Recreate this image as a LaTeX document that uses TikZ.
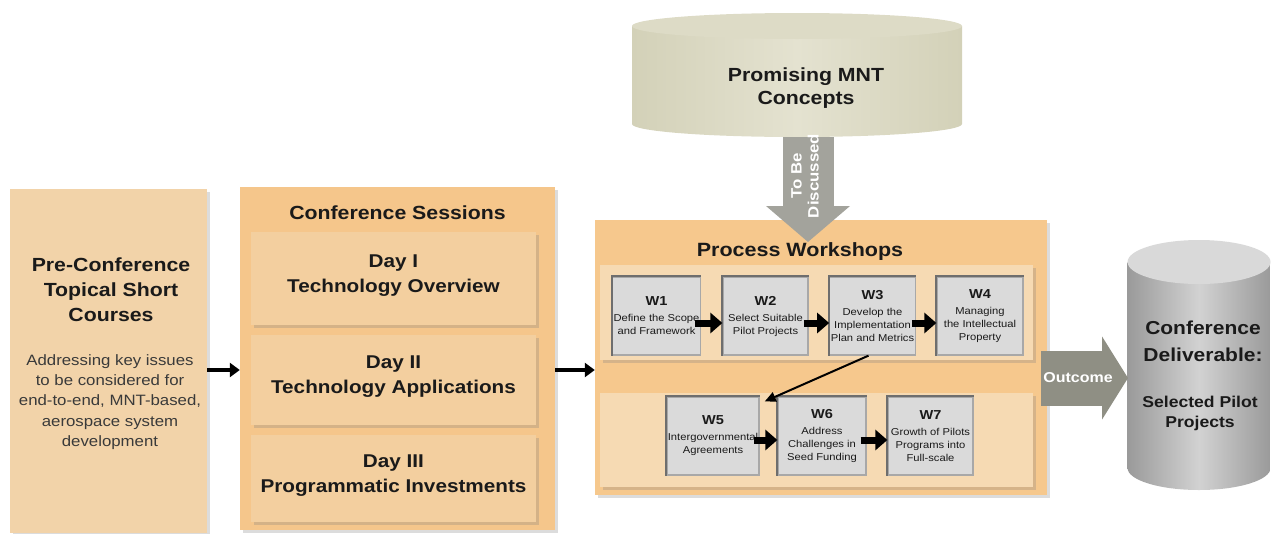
\documentclass[tikz,border=0pt]{standalone}
\usepackage{fontspec}
\setmainfont[FakeStretch=1.12]{Liberation Sans}
\usetikzlibrary{arrows.meta,shadows}
\definecolor{pretan}{HTML}{F2D3A9}
\definecolor{csouter}{HTML}{F5C68B}
\definecolor{dayfill}{HTML}{F3CF9F}
\definecolor{pwouter}{HTML}{F6C88D}
\definecolor{bandfill}{HTML}{F6DAB3}
\definecolor{wfill}{HTML}{DADADA}
\definecolor{wborder}{HTML}{A8A8A8}
\definecolor{wdark}{HTML}{6E6E6E}
\definecolor{txtdark}{HTML}{1A1A1A}
\definecolor{subtxt}{HTML}{3A3A3A}
\definecolor{khaki}{HTML}{D3D1B8}
\definecolor{khakilight}{HTML}{E4E2D0}
\definecolor{khakitop}{HTML}{DDDBC6}
\definecolor{arrowgray}{HTML}{A3A39C}
\definecolor{outgray}{HTML}{8F8F84}
\definecolor{cylgraydark}{HTML}{9A9A9A}
\definecolor{cylgraylight}{HTML}{D2D2D2}
\definecolor{cyltop}{HTML}{D9D9D9}
\begin{document}
\begin{tikzpicture}[x=1pt,y=-1pt,
  shadowed/.style={drop shadow={opacity=0.28,shadow xshift=3pt,shadow yshift=-3pt}},
  panel/.style={shadowed, inner sep=0pt},
  daybox/.style={panel, fill=dayfill, minimum width=285pt, align=center, text=txtdark, text depth=10pt, font=\fontsize{18.5}{25}\selectfont\bfseries},
  wbox/.style={fill=wfill, draw=wborder, line width=1.3pt, minimum height=78pt, inner sep=1pt, align=center, text=txtdark, font=\fontsize{10}{13}\selectfont},
  wedge/.style={draw=wdark, line width=1.8pt},
  band/.style={fill=bandfill, minimum width=433pt, inner sep=0pt, shadowed},
  blockarrow/.style={black, line width=7pt, -{Triangle[length=12pt,width=20pt]}},
  flowarrow/.style={black, line width=3.5pt, -{Triangle[length=10pt,width=14pt]}},
  thinarrow/.style={black, line width=2pt, -{Triangle[length=11pt,width=10pt]}},
  title/.style={text=txtdark, font=\fontsize{19}{25}\selectfont\bfseries, align=center, inner sep=0pt},
]
\useasboundingbox (0,0) rectangle (1271,533);
\newcommand\wt[1]{{\fontsize{13}{15}\selectfont\bfseries #1}\\[3pt]}

% top cylinder
\path[left color=khaki, right color=khaki, middle color=khakilight] (632,26) -- (632,124) arc[start angle=180,end angle=0,x radius=165,y radius=13] -- (962,26) -- cycle;
\path[fill=khakitop] (797,26) ellipse [x radius=165, y radius=13];
\node[title, font=\fontsize{19}{23}\selectfont\bfseries] (mnt) at (806,88) {Promising MNT\\Concepts};

% pre-conference
\node[panel, fill=pretan, minimum width=197pt, minimum height=344pt] (pre) at (108.5,361) {};
\node[title, font=\fontsize{19}{25}\selectfont\bfseries] (pretitle) at (111,290) {Pre-Conference\\Topical Short\\Courses};
\node[text=subtxt, font=\fontsize{15}{20.3}\selectfont, align=center, inner sep=0pt] (pretext) at (110,402) {Addressing key issues\\to be considered for\\end-to-end, MNT-based,\\aerospace system\\development};

% conference sessions
\node[panel, fill=csouter, minimum width=315pt, minimum height=343pt] (cs) at (397.5,358.5) {};
\node[title] (cstitle) at (397.5,213) {Conference Sessions};
\node[daybox, minimum height=93pt] (day1) at (393.5,278.5) {Day I\\Technology Overview};
\node[daybox, minimum height=90pt] (day2) at (393.5,380) {Day II\\Technology Applications};
\node[daybox, minimum height=87pt] (day3) at (393.5,478.5) {Day III\\Programmatic Investments};

% process workshops
\node[panel, fill=pwouter, minimum width=452pt, minimum height=275pt] (pw) at (821,357.5) {};
\node[title, font=\fontsize{19.2}{25}\selectfont\bfseries] (pwtitle) at (800,252) {Process Workshops};
\node[band, minimum height=95pt] (band1) at (816.5,312.5) {};
\node[band, minimum height=94pt] (band2) at (816.5,440) {};
\node[wbox, minimum width=87pt] (W1) at (656.5,316) {\wt{W1}Define the Scope\\and Framework};
\node[wbox, minimum width=85pt] (W2) at (765.5,316) {\wt{W2}Select Suitable\\Pilot Projects};
\node[wbox, minimum width=85pt] (W3) at (872.5,316) {\wt{W3}Develop the\\Implementation\\Plan and Metrics};
\node[wbox, minimum width=86pt] (W4) at (980,316) {\wt{W4}Managing\\the Intellectual\\Property};
\node[wbox, minimum width=88pt] (W5) at (713,436) {\wt{W5}Intergovernmental\\Agreements};
\node[wbox, minimum width=88pt] (W6) at (822,436) {\wt{W6}Address\\Challenges in\\Seed Funding};
\node[wbox, minimum width=85pt] (W7) at (930.5,436) {\wt{W7}Growth of Pilots\\Programs into\\Full-scale};
\foreach \w in {W1,W2,W3,W4,W5,W6,W7}
  \draw[wedge] (\w.south west) -- (\w.north west) -- (\w.north east);

\draw[blockarrow] ([xshift=-6pt,yshift=-7pt]W1.east) -- ([yshift=-7pt]W2.west);
\draw[blockarrow] ([xshift=-5pt,yshift=-7pt]W2.east) -- ([yshift=-7pt]W3.west);
\draw[blockarrow] ([xshift=-4pt,yshift=-7pt]W3.east) -- ([yshift=-7pt]W4.west);
\draw[blockarrow] ([xshift=-6pt,yshift=-4pt]W5.east) -- ([yshift=-4pt]W6.west);
\draw[blockarrow] ([xshift=-6pt,yshift=-4pt]W6.east) -- ([yshift=-4pt]W7.west);
\draw[thinarrow] ([xshift=-4pt]W3.south) -- ([xshift=5pt,yshift=-5pt]W5.north east);

% flow arrows
\coordinate (flowrow) at (0,370);
\draw[flowarrow] (pre.east |- flowrow) -- (cs.west |- flowrow);
\draw[flowarrow] (cs.east |- flowrow) -- (pw.west |- flowrow);

% to be discussed arrow
\coordinate (tbdstart) at (808,137);
\coordinate (tbdtip) at (808,242);
\draw[arrowgray, line width=51pt, -{Triangle[length=36pt,width=82pt]}] (tbdstart) -- (tbdtip);
\node[rotate=90, text=white, font=\fontsize{15}{17}\selectfont\bfseries, align=center, inner sep=0pt] (tbdtext) at (805,176) {To Be\\Discussed};

% right cylinder
\path[left color=cylgraydark, right color=cylgraydark, middle color=cylgraylight] (1127.5,262) -- (1127.5,468) arc[start angle=180,end angle=0,x radius=71.5,y radius=22] -- (1270.5,262) -- cycle;
\path[fill=cyltop] (1199,262) ellipse [x radius=71.5, y radius=22];
\node[title, font=\fontsize{18.75}{27}\selectfont\bfseries] (delivtitle) at (1203,341) {Conference\\Deliverable:};
\node[title, font=\fontsize{15.7}{20}\selectfont\bfseries] (delivsub) at (1200,413) {Selected Pilot\\Projects};

% outcome arrow
\coordinate (outstart) at (1041,378);
\coordinate (outtip) at (1128,378);
\draw[outgray, line width=55pt, -{Triangle[length=26pt,width=82pt]}] (outstart) -- (outtip);
\node[text=white, font=\fontsize{14.3}{16}\selectfont\bfseries, inner sep=0pt] (outtext) at (1078,378) {Outcome};
\end{tikzpicture}
\end{document}
